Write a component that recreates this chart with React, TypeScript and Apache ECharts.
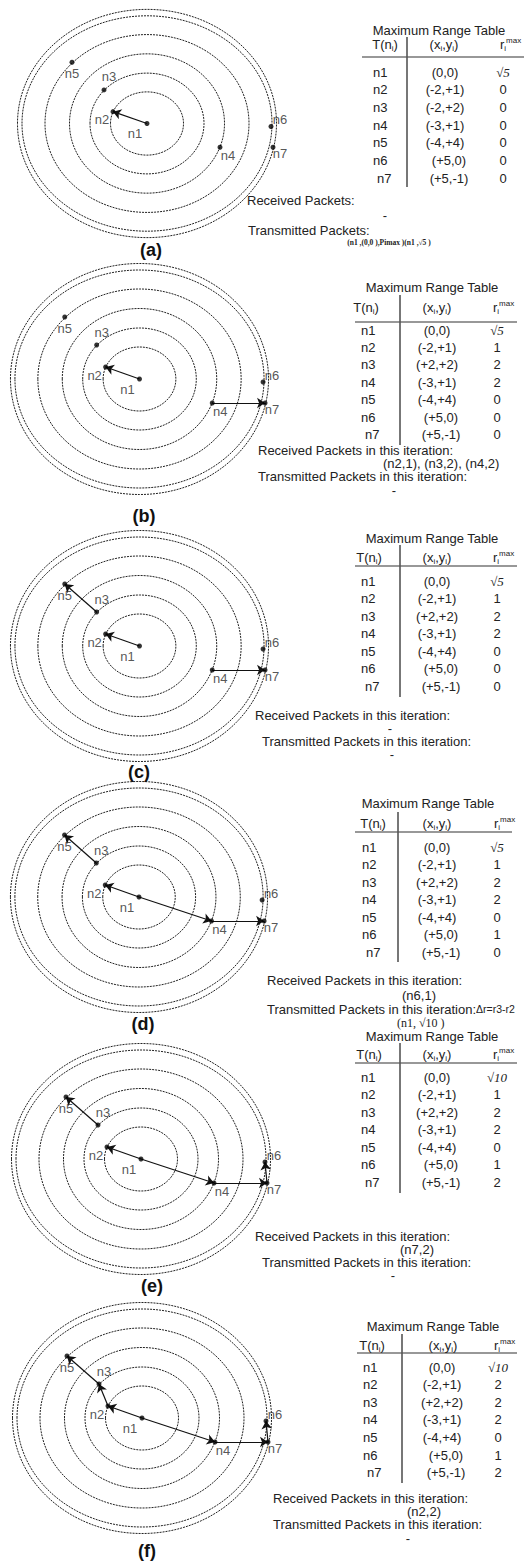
import React, { useEffect, useRef } from "react";
import * as echarts from "echarts";

// ---------- data ----------
const nodeNames = ["n1", "n2", "n3", "n4", "n5", "n6", "n7"];
// node positions in diagram units (n1 at origin, y up)
const nodeX = [0, -34, -43, 73, -75, 124, 126];
const nodeY = [0, 12, 34, -24, 62, -3, -24];
// dotted range rings (semi-axes, diagram units)
const ringRx = [36.5, 57, 77.5, 102, 125, 129.5];
const ringRy = [32, 51, 70.5, 90, 109, 115.5];

const panelLabels = ["(a)", "(b)", "(c)", "(d)", "(e)", "(f)"];

const coordsA = ["(0,0)", "(-2,+1)", "(-2,+2)", "(-3,+1)", "(-4,+4)", "(+5,0)", "(+5,-1)"];
const coordsB = ["(0,0)", "(-2,+1)", "(+2,+2)", "(-3,+1)", "(-4,+4)", "(+5,0)", "(+5,-1)"];

const rmaxA = ["√5", "0", "0", "0", "0", "0", "0"];
const rmaxB = ["√5", "1", "2", "2", "0", "0", "0"];
const rmaxC = ["√5", "1", "2", "2", "0", "0", "0"];
const rmaxD = ["√5", "1", "2", "2", "0", "1", "0"];
const rmaxE = ["√10", "1", "2", "2", "0", "1", "2"];
const rmaxF = ["√10", "2", "2", "2", "0", "1", "2"];

const arrowsA = [["n1", "n2"]];
const arrowsB = [["n1", "n2"], ["n4", "n7"]];
const arrowsC = [["n1", "n2"], ["n3", "n5"], ["n4", "n7"]];
const arrowsD = [["n1", "n2"], ["n3", "n5"], ["n1", "n4"], ["n4", "n7"]];
const arrowsE = [["n1", "n2"], ["n3", "n5"], ["n1", "n4"], ["n4", "n7"], ["n7", "n6"]];
const arrowsF = [["n1", "n2"], ["n2", "n3"], ["n3", "n5"], ["n1", "n4"], ["n4", "n7"], ["n7", "n6"]];

const receivedHeads = [
  "Received Packets:",
  "Received Packets in this iteration:",
  "Received Packets in this iteration:",
  "Received Packets in this iteration:",
  "Received Packets in this iteration:",
  "Received Packets in this iteration:",
];
const receivedVals = ["-", "(n2,1), (n3,2), (n4,2)", "-", "(n6,1)", "(n7,2)", "(n2,2)"];
const transmittedHeads = [
  "Transmitted Packets:",
  "Transmitted Packets in this iteration:",
  "Transmitted Packets in this iteration:",
  "Transmitted Packets in this iteration:",
  "Transmitted Packets in this iteration:",
  "Transmitted Packets in this iteration:",
];
const transmittedVals = ["(n1 ,(0,0 ),Pimax )(n1 ,√5 )", "-", "-", "(n1, √10 )", "-", "-"];
const transmittedNotes = ["", "", "", "Δr=r3-r2", "", ""];

const panelCoords = [coordsA, coordsB, coordsB, coordsB, coordsB, coordsB];
const panelRmax = [rmaxA, rmaxB, rmaxC, rmaxD, rmaxE, rmaxF];
const panelArrows = [arrowsA, arrowsB, arrowsC, arrowsD, arrowsE, arrowsF];

// ---------- layout ----------
const W = 524;
const H = 1561;
const panelCenters = [
  [147, 122],
  [139, 379],
  [139, 646],
  [138, 897],
  [141, 1159],
  [142, 1418],
];
const captionPos = [
  [151, 250],
  [144, 516],
  [139, 772],
  [143, 1024],
  [152, 1286],
  [147, 1551],
];
// label offsets (screen px) relative to each node
const labelOffsets = [
  [-12, 10],
  [-11, 8],
  [5, -13],
  [8, 8],
  [0, 11],
  [9, -7],
  [7, 6],
];

type TL = {
  title: number[];
  headY: number;
  hLine: number[];
  vLine: number[];
  row0: number;
  step: number;
  nameX: number;
  coordX: number;
  rX: number;
  headX: number[];
  rec: number[];
  recVal: [number, number, string];
  trans: number[];
  transVal: [number, number, string];
  note?: number[];
};

const tableLayouts: TL[] = [
  { title: [439, 30], headY: 44, hLine: [362, 524, 57], vLine: [407, 37, 187], row0: 72, step: 17.7, nameX: 373, coordX: 445, rX: 503, headX: [385, 444, 500],
    rec: [247, 200], recVal: [385, 215, "center"], trans: [248, 230], transVal: [389, 242, "center"] },
  { title: [432, 287], headY: 307, hLine: [355, 517, 322], vLine: [400, 295, 445], row0: 330, step: 17.4, nameX: 361, coordX: 437, rX: 497, headX: [366, 437, 493],
    rec: [258, 450], recVal: [383, 463, "left"], trans: [258, 476], transVal: [394, 490, "center"] },
  { title: [432, 538], headY: 557, hLine: [355, 517, 566], vLine: [400, 545, 697], row0: 581, step: 17.5, nameX: 361, coordX: 437, rX: 497, headX: [369, 437, 493],
    rec: [255, 715], recVal: [390, 728, "center"], trans: [262, 741], transVal: [392, 754, "center"] },
  { title: [428, 803], headY: 823, hLine: [355, 512, 832], vLine: [398, 812, 962], row0: 847, step: 17.5, nameX: 362, coordX: 437, rX: 497, headX: [373, 437, 494],
    rec: [267, 980], recVal: [402, 995, "left"], trans: [267, 1009], transVal: [397, 1023, "left"], note: [476, 1009] },
  { title: [432, 1036], headY: 1054, hLine: [355, 517, 1063], vLine: [400, 1043, 1193], row0: 1077, step: 17.5, nameX: 361, coordX: 437, rX: 497, headX: [369, 437, 493],
    rec: [255, 1236], recVal: [400, 1249, "left"], trans: [262, 1262], transVal: [393, 1275, "center"] },
  { title: [433, 1326], headY: 1345, hLine: [357, 517, 1353], vLine: [402, 1334, 1483], row0: 1367, step: 17.6, nameX: 363, coordX: 442, rX: 498, headX: [372, 443, 494],
    rec: [273, 1498], recVal: [407, 1511, "left"], trans: [273, 1524], transVal: [408, 1538, "center"] },
];

const SANS = '"Liberation Sans", Arial, sans-serif';
const SERIF = '"Liberation Serif", "Times New Roman", serif';
const INK = "#222";

function txt(text: string, x: number, y: number, opts: any = {}) {
  const align = opts.align || "left";
  return {
    type: "text",
    x,
    y,
    silent: true,
    z: 10,
    style: {
      text,
      fill: opts.fill || INK,
      fontSize: opts.fontSize || 13,
      fontFamily: opts.fontFamily || SANS,
      fontWeight: opts.fontWeight || "normal",
      fontStyle: opts.fontStyle || "normal",
      align,
      textAlign: align,
      verticalAlign: "middle",
      textVerticalAlign: "middle",
      rich: opts.rich,
    },
  };
}

function lineEl(x1: number, y1: number, x2: number, y2: number, stroke: string, w: number) {
  return { type: "line", silent: true, z: 9, shape: { x1, y1, x2, y2 }, style: { stroke, lineWidth: w } };
}

function buildOption() {
  const grid: any[] = [];
  const xAxis: any[] = [];
  const yAxis: any[] = [];
  const series: any[] = [];
  const graphic: any[] = [];

  panelLabels.forEach((lab, i) => {
    const [cx, cy] = panelCenters[i];
    grid.push({ left: cx - 140, top: cy - 125, width: 280, height: 250, containLabel: false });
    xAxis.push({ type: "value", gridIndex: i, min: -140, max: 140, show: false });
    yAxis.push({ type: "value", gridIndex: i, min: -125, max: 125, show: false });

    series.push({
      type: "custom",
      xAxisIndex: i,
      yAxisIndex: i,
      silent: true,
      z: 1,
      data: ringRx.map((rx, k) => [rx, ringRy[k]]),
      renderItem: (_p: any, api: any) => {
        const c = api.coord([0, 0]);
        const s = api.size([api.value(0), api.value(1)]);
        return {
          type: "ellipse",
          shape: { cx: c[0], cy: c[1], rx: s[0], ry: s[1] },
          style: { fill: "none", stroke: "#222", lineWidth: 1, lineDash: [2, 1] },
        };
      },
    });

    series.push({
      type: "lines",
      coordinateSystem: "cartesian2d",
      xAxisIndex: i,
      yAxisIndex: i,
      silent: true,
      z: 3,
      symbol: ["none", "arrow"],
      symbolSize: 8,
      lineStyle: { color: "#111", width: 1.2, opacity: 1 },
      data: panelArrows[i].map(([a, b]) => {
        const ia = nodeNames.indexOf(a);
        const ib = nodeNames.indexOf(b);
        return { coords: [[nodeX[ia], nodeY[ia]], [nodeX[ib], nodeY[ib]]] };
      }),
    });

    series.push({
      type: "scatter",
      xAxisIndex: i,
      yAxisIndex: i,
      silent: true,
      z: 4,
      symbol: "circle",
      symbolSize: 5,
      itemStyle: { color: "#000" },
      label: {
        show: true,
        position: "inside",
        formatter: "{b}",
        color: "#2a2a2a",
        textBorderWidth: 0,
        textBorderColor: "transparent",
        fontSize: 13,
        fontFamily: SANS,
      },
      data: nodeNames.map((n, k) => ({
        name: n,
        value: [nodeX[k], nodeY[k]],
        label: { offset: labelOffsets[k] },
      })),
    });

    // caption
    graphic.push(txt(lab, captionPos[i][0], captionPos[i][1], { align: "center", fontSize: 18, fontWeight: "bold", fill: "#111" }));

    // table
    const L = tableLayouts[i];
    graphic.push(txt("Maximum Range Table", L.title[0], L.title[1], { align: "center" }));
    const richBase = {
      t: { fontSize: 13, fontFamily: SANS, fill: INK, lineHeight: 16 },
      s: { fontSize: 8, fontFamily: SANS, fill: INK, lineHeight: 16, verticalAlign: "bottom" },
      p: { fontSize: 8, fontFamily: SANS, fill: INK, lineHeight: 16, verticalAlign: "top" },
    };
    graphic.push(txt("{t|T(n}{s|i}{t|)}", L.headX[0], L.headY, { align: "center", rich: richBase }));
    graphic.push(txt("{t|(x}{s|i}{t|,y}{s|i}{t|)}", L.headX[1], L.headY, { align: "center", rich: richBase }));
    graphic.push(txt("{t|r}{s|i}{p|max}", L.headX[2], L.headY, { align: "left", rich: richBase }));
    graphic.push(lineEl(L.hLine[0], L.hLine[2], L.hLine[1], L.hLine[2], "#333", 1.2));
    graphic.push(lineEl(L.vLine[0], L.vLine[1], L.vLine[0], L.vLine[2], "#555", 1.6));

    nodeNames.forEach((n, k) => {
      const y = L.row0 + k * L.step;
      graphic.push(txt(n, L.nameX + (k === 6 ? 4 : 0), y, { align: "left" }));
      graphic.push(txt(panelCoords[i][k], L.coordX + (k >= 5 ? 4 : 0), y, { align: "center" }));
      const rv = panelRmax[i][k];
      const isRoot = rv.startsWith("√");
      graphic.push(
        txt(rv, L.rX, y, isRoot ? { align: "center", fontFamily: SERIF, fontStyle: "italic", fontSize: 13 } : { align: "center" })
      );
    });

    graphic.push(txt(receivedHeads[i], L.rec[0], L.rec[1]));
    graphic.push(txt(receivedVals[i], L.recVal[0], L.recVal[1], { align: L.recVal[2] }));
    graphic.push(txt(transmittedHeads[i], L.trans[0], L.trans[1]));
    if (i === 0) {
      graphic.push(txt(transmittedVals[i], L.transVal[0], L.transVal[1], { align: "center", fontFamily: SERIF, fontWeight: "bold", fontSize: 7.5 }));
    } else if (i === 3) {
      graphic.push(txt(transmittedVals[i], L.transVal[0], L.transVal[1], { align: "left", fontFamily: SERIF, fontSize: 12 }));
    } else {
      graphic.push(txt(transmittedVals[i], L.transVal[0], L.transVal[1], { align: L.transVal[2] }));
    }
    if (transmittedNotes[i] && L.note) {
      graphic.push(txt(transmittedNotes[i], L.note[0], L.note[1], { fontSize: 10.5 }));
    }
  });

  return {
    animation: false,
    backgroundColor: "#ffffff",
    grid,
    xAxis,
    yAxis,
    series,
    graphic: { elements: graphic },
  };
}

export default function App() {
  const ref = useRef<HTMLDivElement>(null);
  useEffect(() => {
    if (!ref.current) return;
    const chart = echarts.init(ref.current, undefined, { renderer: "svg" });
    chart.setOption(buildOption() as any);
    return () => chart.dispose();
  }, []);
  return (
    <div
      ref={ref}
      style={{ position: "absolute", left: 0, top: 0, width: W, height: H, background: "#fff" }}
    />
  );
}
